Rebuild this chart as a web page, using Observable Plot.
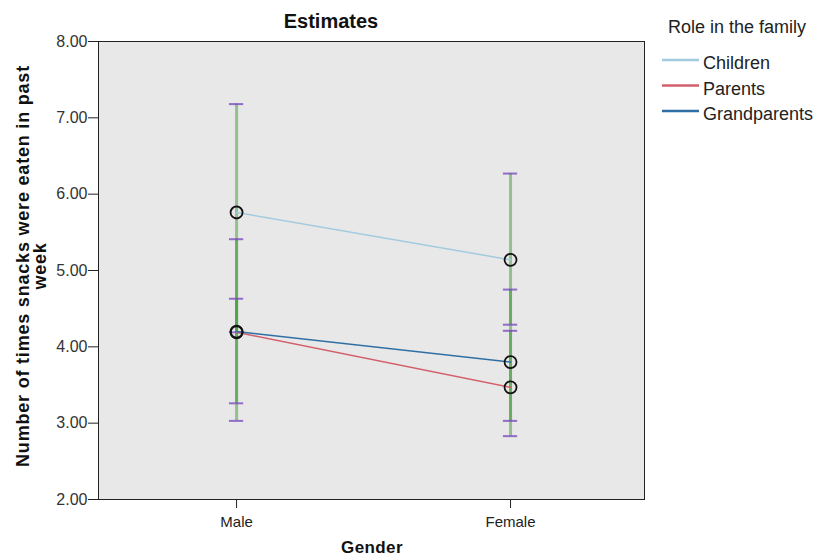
<!DOCTYPE html>
<html>
<head>
<meta charset="utf-8">
<script src="https://cdn.jsdelivr.net/npm/d3@7"></script>
<script src="https://cdn.jsdelivr.net/npm/@observablehq/plot@0.6"></script>
<style>
  body { margin: 0; background: #fff; font-family: "Liberation Sans", Arial, sans-serif; }
  #wrap { position: relative; width: 828px; height: 558px; }
</style>
</head>
<body>
<div id="wrap"></div>
<script>
const genders = ["Male", "Female"];
const roles = ["Children", "Parents", "Grandparents"];
const roleColors = ["#a3cbe0", "#d35f6b", "#2f6ea5"];
// means [Male, Female] per role
const meansChildren = [5.76, 5.14];
const meansParents = [4.19, 3.47];
const meansGrandparents = [4.20, 3.80];
// error bar bounds [Male, Female]
const lowChildren = [4.19, 4.29];
const highChildren = [7.18, 6.27];
const lowParents = [3.03, 2.83];
const highParents = [5.41, 4.21];
const lowGrandparents = [3.26, 3.03];
const highGrandparents = [4.63, 4.75];
const yTicks = [2, 3, 4, 5, 6, 7, 8];

const seriesMeans = [meansChildren, meansParents, meansGrandparents];
const seriesLow = [lowChildren, lowParents, lowGrandparents];
const seriesHigh = [highChildren, highParents, highGrandparents];

const data = [];
roles.forEach((r, ri) => {
  genders.forEach((g, gi) => {
    data.push({role: r, gender: g, gi, mean: seriesMeans[ri][gi], lo: seriesLow[ri][gi], hi: seriesHigh[ri][gi]});
  });
});
const capHalf = 0.026;
const fmt = d3.format(".2f");

const chart = Plot.plot({
  width: 828,
  height: 558,
  marginLeft: 98,
  marginRight: 184,
  marginTop: 41,
  marginBottom: 59,
  style: {fontFamily: "Liberation Sans, Arial, sans-serif", background: "transparent"},
  x: {type: "linear", domain: [-0.504, 1.489], axis: null},
  y: {domain: [2, 8], axis: null},
  color: {domain: roles, range: roleColors},
  marks: [
    Plot.frame({fill: "#e8e8e8", stroke: null}),
    Plot.axisY(yTicks, {tickSize: 10, tickFormat: () => "", stroke: "#222", label: null}),
    Plot.axisX([0, 1], {tickSize: 9, tickFormat: () => "", stroke: "#222", label: null}),
    Plot.text(yTicks, {y: d => d, text: d => fmt(d), frameAnchor: "left", textAnchor: "end", dx: -11, fontSize: 16, fill: "#333"}),
    Plot.text([0, 1], {x: d => d, text: i => genders[i], frameAnchor: "bottom", lineAnchor: "top", dy: 17, fontSize: 15, fill: "#222"}),
    Plot.ruleX(data, {x: "gi", y1: "lo", y2: "hi", stroke: "#3d9a33", strokeOpacity: 0.5, strokeWidth: 3}),
    Plot.ruleY(data, {y: "lo", x1: d => d.gi - capHalf, x2: d => d.gi + capHalf, stroke: "#7a4cc0", strokeOpacity: 0.8, strokeWidth: 2}),
    Plot.ruleY(data, {y: "hi", x1: d => d.gi - capHalf, x2: d => d.gi + capHalf, stroke: "#7a4cc0", strokeOpacity: 0.8, strokeWidth: 2}),
    Plot.line(data, {x: "gi", y: "mean", z: "role", stroke: "role", strokeWidth: 1.5}),
    Plot.dot(data, {x: "gi", y: "mean", r: 6, stroke: "#111", strokeWidth: 1.8, fill: "none"}),
    Plot.frame({stroke: "#222", strokeWidth: 1})
  ]
});

const svg = d3.select(chart);
svg.append("text").attr("x", 331).attr("y", 28).attr("text-anchor", "middle")
  .attr("font-size", 20).attr("font-weight", "bold").attr("fill", "#111").text("Estimates");
svg.append("text").attr("x", 372).attr("y", 553).attr("text-anchor", "middle")
  .attr("font-size", 17).attr("font-weight", "bold").attr("letter-spacing", 0.4).attr("fill", "#111").text("Gender");
const yl = svg.append("text").attr("transform", "translate(29,266) rotate(-90)")
  .attr("text-anchor", "middle").attr("font-size", 18).attr("font-weight", "bold").attr("letter-spacing", 0.8).attr("fill", "#111");
yl.append("tspan").attr("x", 0).attr("y", 0).text("Number of times snacks were eaten in past");
yl.append("tspan").attr("x", 0).attr("y", 17).text("week");

// legend
const lg = svg.append("g").attr("font-size", 18).attr("fill", "#222").attr("text-anchor", "start");
lg.append("text").attr("x", 668).attr("y", 33).text("Role in the family");
roles.forEach((r, i) => {
  const yb = 69 + i * 25.5;
  lg.append("line").attr("x1", 662).attr("x2", 699).attr("y1", yb - 9).attr("y2", yb - 9)
    .attr("stroke", roleColors[i]).attr("stroke-width", 2.5);
  lg.append("text").attr("x", 703).attr("y", yb).text(r);
});

document.getElementById("wrap").appendChild(chart);
</script>
</body>
</html>
